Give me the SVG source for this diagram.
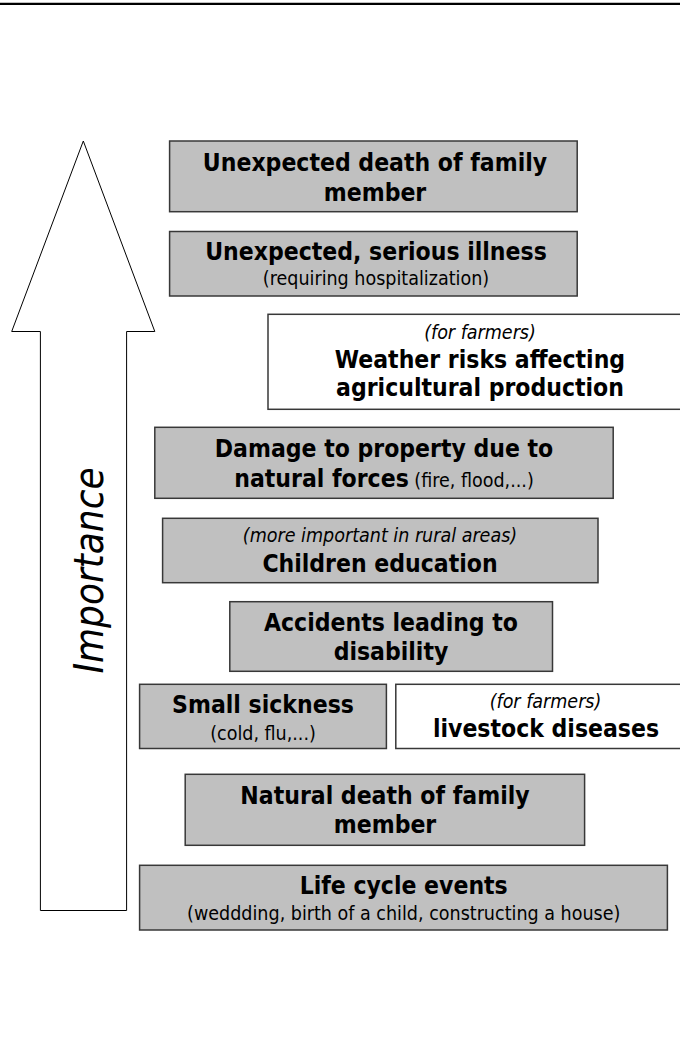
<svg xmlns="http://www.w3.org/2000/svg" width="680" height="1052" viewBox="0 0 680 1052">
<style>
.box{fill:#c0c0c0;stroke:#383838;stroke-width:1.5}
.wbox{fill:#ffffff;stroke:#383838;stroke-width:1.5}
text{font-family:"DejaVu Sans Condensed","DejaVu Sans",sans-serif;font-stretch:condensed;text-anchor:middle;fill:#000}
.b{font-weight:bold;font-size:24.5px}
.r{font-size:19.5px}
.i{font-style:italic;font-size:19.5px}
</style>
<rect x="0" y="0" width="680" height="1052" fill="#ffffff"/>
<line x1="0" y1="3.8" x2="680" y2="3.8" stroke="#000" stroke-width="2.2"/>
<g id="arrow">
<polygon points="83.3,141 154.8,331.5 126.6,331.5 126.6,910.5 40.4,910.5 40.4,331.5 11.7,331.5" fill="#ffffff" stroke="#000" stroke-width="1"/>
<text class="i" transform="translate(103,570.5) rotate(-90)" style="font-size:40px">Importance</text>
</g>
<g id="connectors"></g>
<g id="n1">
<rect class="box" x="169.6" y="141" width="407.6" height="70.7"/>
<text class="b" x="375" y="171">Unexpected death of family</text>
<text class="b" x="375" y="201">member</text>
</g>
<g id="n2">
<rect class="box" x="169.6" y="231.5" width="407.6" height="64.5"/>
<text class="b" x="376" y="260">Unexpected, serious illness</text>
<text class="r" x="376" y="285">(requiring hospitalization)</text>
</g>
<g id="n3">
<rect class="wbox" x="268" y="314.3" width="424" height="95"/>
<text class="i" x="480" y="339">(for farmers)</text>
<text class="b" x="480" y="368">Weather risks affecting</text>
<text class="b" x="480" y="396">agricultural production</text>
</g>
<g id="n4">
<rect class="box" x="154.8" y="427.3" width="458.4" height="71"/>
<text class="b" x="384" y="456.7">Damage to property due to</text>
<text x="384" y="486.7"><tspan class="b">natural forces</tspan><tspan class="r"> (fire, flood,...)</tspan></text>
</g>
<g id="n5">
<rect class="box" x="162.6" y="518.3" width="435.4" height="64.4"/>
<text class="i" x="380" y="541.7">(more important in rural areas)</text>
<text class="b" x="380" y="571.7">Children education</text>
</g>
<g id="n6">
<rect class="box" x="229.8" y="601.7" width="322.7" height="69.6"/>
<text class="b" x="391" y="630.7">Accidents leading to</text>
<text class="b" x="391" y="660">disability</text>
</g>
<g id="n7">
<rect class="box" x="139.6" y="684.3" width="246.8" height="64.2"/>
<text class="b" x="263" y="713.3">Small sickness</text>
<text class="r" x="263" y="740">(cold, flu,...)</text>
</g>
<g id="n8">
<rect class="wbox" x="395.8" y="684.3" width="300" height="64.2"/>
<text class="i" x="545.5" y="708.3">(for farmers)</text>
<text class="b" x="546" y="737.3">livestock diseases</text>
</g>
<g id="n9">
<rect class="box" x="185.2" y="774.3" width="399.4" height="71"/>
<text class="b" x="385" y="804">Natural death of family</text>
<text class="b" x="385" y="833.3">member</text>
</g>
<g id="n10">
<rect class="box" x="139.6" y="865.3" width="527.8" height="64.7"/>
<text class="b" x="403.7" y="894">Life cycle events</text>
<text class="r" x="403.7" y="920">(weddding, birth of a child, constructing a house)</text>
</g>
</svg>
